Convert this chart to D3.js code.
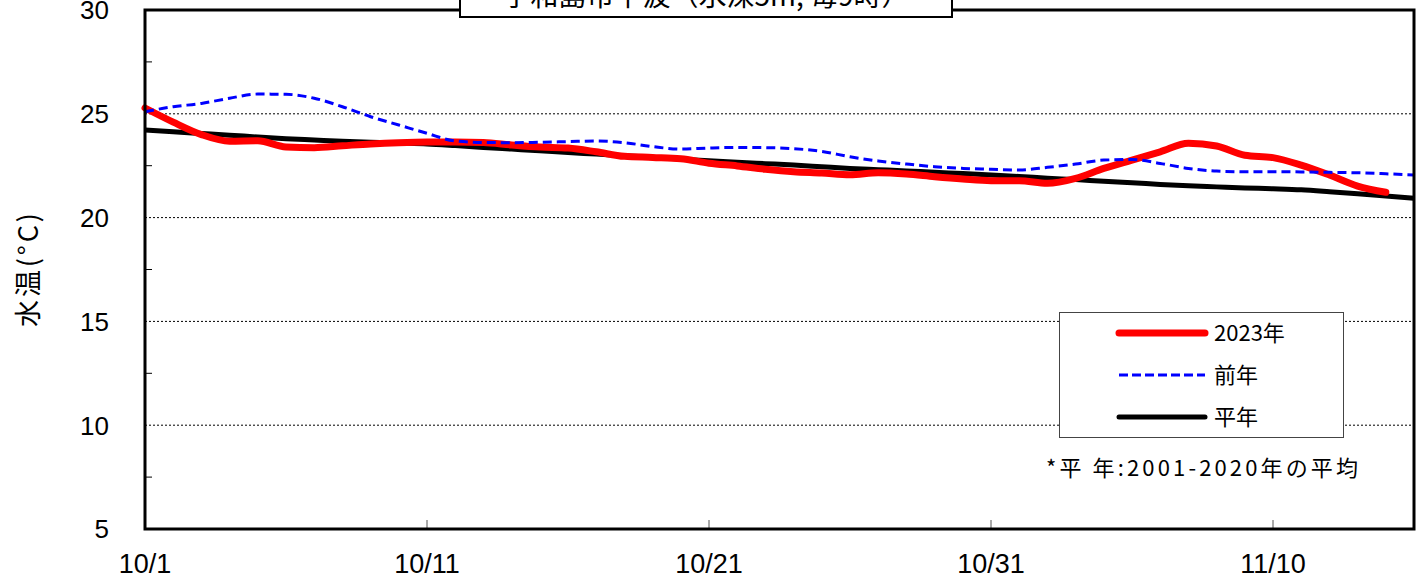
<!DOCTYPE html>
<html><head><meta charset="utf-8">
<script src="https://cdn.jsdelivr.net/npm/d3@7/dist/d3.min.js"></script>
<style>html,body{margin:0;padding:0;background:#fff;}svg{display:block;}</style>
</head><body><svg id="c" width="1418" height="579"></svg>
<script>
const titleText = "宇和島市下波（水深5m, 毎9時）";
const yLabel = "水温(°C)";
const xTickDays = [0, 10, 20, 30, 40];
const xTickLabels = ["10/1", "10/11", "10/21", "10/31", "11/10"];
const yTicks = [5, 10, 15, 20, 25, 30];
const gridVals = [10, 15, 20, 25];
const minorVals = [7.5, 12.5, 17.5, 22.5, 27.5];
const seriesNames = ["2023年", "前年", "平年"];
const noteText = "*平 年:2001-2020年の平均";

// day index 0 = 10/1
const red2023 = [25.28,24.6,24.0,23.68,23.7,23.4,23.37,23.46,23.55,23.61,23.64,23.64,23.62,23.5,23.4,23.35,23.17,22.95,22.9,22.84,22.62,22.49,22.33,22.21,22.15,22.07,22.16,22.1,21.97,21.86,21.78,21.78,21.65,21.89,22.37,22.77,23.17,23.58,23.45,23.0,22.89,22.53,22.05,21.52,21.22];
const bluePrev = [25.1,25.34,25.5,25.75,25.95,25.94,25.75,25.34,24.86,24.46,24.06,23.69,23.62,23.61,23.63,23.66,23.69,23.61,23.42,23.3,23.35,23.38,23.37,23.32,23.19,22.93,22.73,22.58,22.45,22.37,22.33,22.29,22.42,22.58,22.77,22.8,22.61,22.37,22.24,22.21,22.21,22.2,22.18,22.16,22.11,22.05];
const blackNormal = [24.22,24.13,24.05,23.97,23.88,23.8,23.74,23.68,23.63,23.59,23.55,23.47,23.38,23.3,23.22,23.13,23.06,22.98,22.9,22.82,22.74,22.67,22.6,22.53,22.45,22.37,22.31,22.25,22.18,22.12,22.05,21.98,21.9,21.83,21.75,21.68,21.6,21.53,21.48,21.43,21.39,21.34,21.25,21.15,21.04,20.93];

const svg = d3.select("#c");
const L = 145, R = 1414, T = 10, B = 529;
const x = d3.scaleLinear().domain([0, 45]).range([L, R]);
const y = d3.scaleLinear().domain([5, 30]).range([B, T]);

svg.append("g").selectAll("line").data(gridVals).join("line")
  .attr("x1", L).attr("x2", R).attr("y1", d => y(d)).attr("y2", d => y(d))
  .attr("stroke", "#000").attr("stroke-width", 1).attr("stroke-dasharray", "2,2");

svg.append("g").selectAll("line").data(minorVals).join("line")
  .attr("x1", L).attr("x2", L + 7).attr("y1", d => y(d)).attr("y2", d => y(d))
  .attr("stroke", "#000").attr("stroke-width", 1);

svg.append("g").selectAll("line").data(xTickDays.slice(1)).join("line")
  .attr("x1", d => x(d)).attr("x2", d => x(d)).attr("y1", B).attr("y2", B - 9)
  .attr("stroke", "#555").attr("stroke-width", 1);

const line = d3.line().defined(d => d != null).x((d, i) => x(i)).y(d => y(d)).curve(d3.curveMonotoneX);

svg.append("path").datum(blackNormal).attr("d", line).attr("fill", "none")
  .attr("stroke", "#000").attr("stroke-width", 5);
svg.append("path").datum(red2023).attr("d", line).attr("fill", "none")
  .attr("stroke", "#ff0000").attr("stroke-width", 7).attr("stroke-linecap", "round");
svg.append("path").datum(bluePrev).attr("d", line).attr("fill", "none")
  .attr("stroke", "#0000ff").attr("stroke-width", 3).attr("stroke-dasharray", "9,5");

svg.append("rect").attr("x", L).attr("y", T).attr("width", R - L).attr("height", B - T)
  .attr("fill", "none").attr("stroke", "#000").attr("stroke-width", 3);

svg.append("g").selectAll("text").data(yTicks).join("text")
  .attr("x", 109).attr("y", d => y(d)).attr("dy", "0.36em").attr("text-anchor", "end")
  .attr("font-family", "Liberation Sans, Arial, sans-serif").attr("font-size", 26)
  .text(d => d);

svg.append("g").selectAll("text").data(xTickDays).join("text")
  .attr("x", (d) => x(d)).attr("y", 573).attr("text-anchor", "middle")
  .attr("font-family", "Liberation Sans Narrow, Liberation Sans, sans-serif").attr("font-size", 27)
  .text((d, i) => xTickLabels[i]);

svg.append("text").attr("transform", "translate(38,270) rotate(-90)")
  .attr("text-anchor", "middle").attr("font-family", "Noto Sans CJK JP, sans-serif")
  .attr("font-size", 27).attr("textLength", 114).attr("lengthAdjust", "spacing").text(yLabel);

svg.append("rect").attr("x", 460).attr("y", -20).attr("width", 492).attr("height", 37)
  .attr("fill", "#fff").attr("stroke", "#000").attr("stroke-width", 2);
svg.append("text").attr("x", 706).attr("y", 6).attr("text-anchor", "middle")
  .attr("font-family", "Noto Sans CJK JP, sans-serif").attr("font-size", 28).text(titleText);

const lg = svg.append("g");
lg.append("rect").attr("x", 1059.5).attr("y", 312.5).attr("width", 284).attr("height", 125)
  .attr("fill", "#fff").attr("stroke", "#444").attr("stroke-width", 1);
const legendRows = [
  {name: seriesNames[0], color: "#ff0000", w: 7, dash: null},
  {name: seriesNames[1], color: "#0000ff", w: 3, dash: "9,4"},
  {name: seriesNames[2], color: "#000", w: 5, dash: null}
];
legendRows.forEach((r, i) => {
  const yy = 333 + i * 42;
  lg.append("line").attr("x1", 1119).attr("x2", 1205).attr("y1", yy).attr("y2", yy)
    .attr("stroke", r.color).attr("stroke-width", r.w).attr("stroke-linecap", r.dash ? "butt" : "round")
    .attr("stroke-dasharray", r.dash);
  lg.append("text").attr("x", 1214).attr("y", yy).attr("dy", "0.36em")
    .attr("font-family", "Noto Sans CJK JP, sans-serif").attr("font-size", 22).text(r.name);
});
svg.append("text").attr("x", 1046).attr("y", 468).attr("dy", "0.36em")
  .attr("font-family", "Noto Sans CJK JP, sans-serif").attr("font-size", 22)
  .attr("textLength", 312).attr("lengthAdjust", "spacing").text(noteText);
</script></body></html>
